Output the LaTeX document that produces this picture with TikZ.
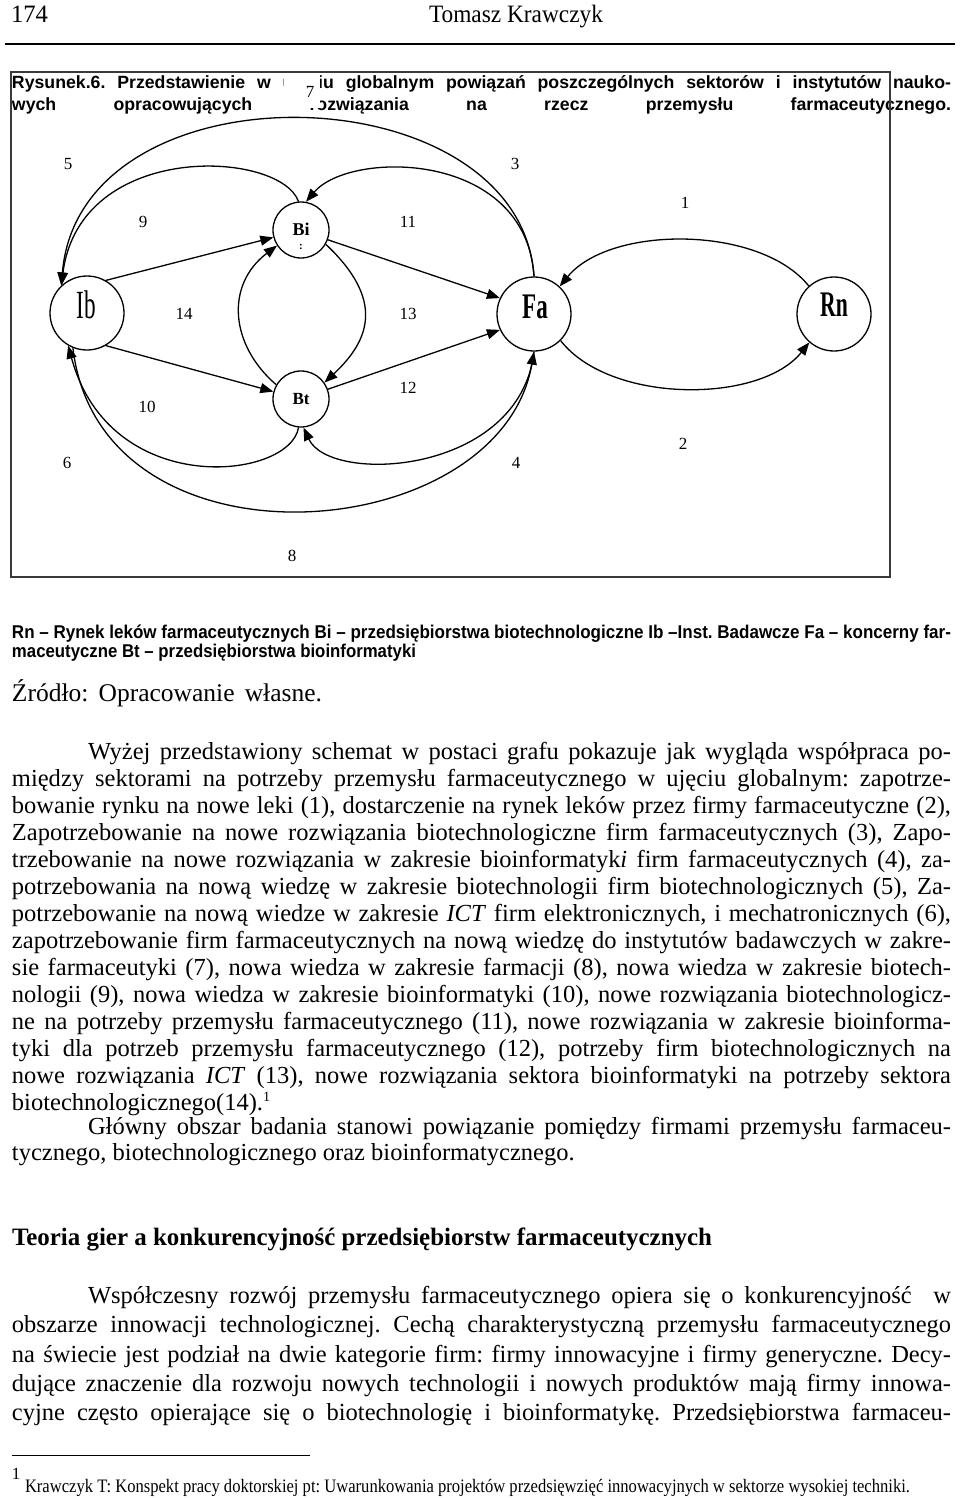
\documentclass[tikz,border=0pt]{standalone}
\usepackage{fontspec}
\usepackage{graphicx}
\usetikzlibrary{arrows.meta}
\setmainfont{Liberation Serif}
\newfontfamily\sansf{Liberation Sans}
\frenchspacing
\newsavebox\jlbox
\newcommand\jline[2]{\sbox\jlbox{#2}\ifdim\wd\jlbox>#1\relax\resizebox{#1}{\height}{\usebox\jlbox}\else\makebox[#1][s]{#2}\fi}
\newcommand\bodysz{\frenchspacing\fontsize{24.5pt}{29pt}\selectfont}
\newcommand\capsz{\frenchspacing\sansf\bfseries\fontsize{17.7pt}{19pt}\selectfont}
\newcommand\legsz{\frenchspacing\sansf\bfseries\fontsize{18.5pt}{19pt}\selectfont}
\newcommand\numsz{\fontsize{17pt}{19pt}\selectfont}
\definecolor{framegray}{HTML}{3A3A3A}
\begin{document}
\begin{tikzpicture}[x=1pt,y=-1pt,
  txt/.style={anchor=base west,inner sep=0pt,outer sep=0pt},
  circ/.style={draw,circle,line width=1.3pt,inner sep=0pt},
  big/.style={circ,minimum size=74pt},
  small/.style={circ,minimum size=56pt},
  lbl/.style={anchor=base,inner sep=0pt},
  num/.style={inner sep=0pt,font=\numsz},
  conn/.style={line width=1.3pt,-{Triangle[length=13pt,width=10pt]}}]
\fill[white] (0,0) rectangle (960,1498);
\useasboundingbox (0,0) rectangle (960,1498);
% header
\node[txt] (pg) at (11,23) {\fontsize{25pt}{28pt}\selectfont\jline{37pt}{174}};
\node[lbl] (auth) at (516,23) {\fontsize{25pt}{28pt}\selectfont\jline{174pt}{Tomasz Krawczyk}};
\draw[line width=1.6pt] (5,44) -- (955,44);
% caption
\node[txt] (cap1) at (12,89) {\capsz\jline{939pt}{Rysunek.6. Przedstawienie w ujęciu globalnym powiązań poszczególnych sektorów i instytutów nauko-}};
\node[txt] (cap2) at (12,111) {\capsz\jline{939pt}{wych opracowujących rozwiązania na rzecz przemysłu farmaceutycznego.}};
\node[fill=white,minimum width=36pt,minimum height=34pt,inner sep=0pt] (patch) at (302,91) {};
\node[num] (l7) at (310,92) {7};
% frame
\draw[framegray,line width=2pt] (11,72) rectangle (890,577);
% nodes
\node[big] (Ib) at (87,313) {};
\node[big] (Fa) at (534,314) {};
\node[big] (Rn) at (834,314) {};
\node[small] (Bi) at (301,230) {};
\node[small] (Bt) at (301,399) {};
\node[lbl] (IbT) at (86,318) {\fontsize{40pt}{40pt}\selectfont\scalebox{0.58}[1]{Ib}};
\node[lbl] (FaT) at (535,318) {\fontsize{36pt}{36pt}\selectfont\bfseries\scalebox{0.64}[1]{Fa}};
\node[lbl] (RnT) at (834,316) {\fontsize{36pt}{36pt}\selectfont\bfseries\scalebox{0.6}[1]{Rn}};
\node[lbl] (BiT) at (301,235) {\fontsize{18pt}{18pt}\selectfont\bfseries Bi};
\node[lbl] (BiC) at (301,249) {\fontsize{11pt}{11pt}\selectfont\bfseries :};
\node[lbl] (BtT) at (301,404) {\fontsize{17pt}{17pt}\selectfont\bfseries Bt};
% connectors
\draw[conn] (Rn.132) .. controls (760,225) and (610,225) .. (Fa.47);
\draw[conn] (Fa.-45) .. controls (610,404) and (760,404) .. (Rn.-131);
\draw[conn] (Fa.90) .. controls (526,150) and (350,150) .. (Bi.80);
\draw[conn] (Fa.90) .. controls (520,70) and (80,60) .. (Ib.133);
\draw[conn] (Bi.95) .. controls (280,150) and (80,140) .. (Ib.133);
\draw[conn] (Fa.-90) .. controls (520,475) and (330,485) .. (Bt.-85);
\draw[conn] (Ib.-112) .. controls (100,580) and (500,548) .. (Fa.-90);
\draw[conn] (Bt.-95) .. controls (290,480) and (110,500) .. (Ib.-120);
\draw[conn] (Ib.60) -- (Bi.195);
\draw[conn] (Ib.-60) -- (Bt.165);
\draw[conn] (Bi.-20) -- (Fa.155);
\draw[conn] (Bt.20) -- (Fa.-155);
\draw[conn] (Bi.-30) .. controls (385,300) and (370,340) .. (Bt.35);
\draw[conn] (Bt.150) .. controls (230,345) and (225,285) .. (Bi.213);
% labels
\node[num] (l1) at (685,203) {1};
\node[num] (l2) at (683,444) {2};
\node[num] (l3) at (515,164) {3};
\node[num] (l4) at (516,463) {4};
\node[num] (l5) at (68,164) {5};
\node[num] (l6) at (67,463) {6};
\node[num] (l8) at (292,556) {8};
\node[num] (l9) at (143,222) {9};
\node[num] (l10) at (147,407) {10};
\node[num] (l11) at (408,222) {11};
\node[num] (l12) at (408,388) {12};
\node[num] (l13) at (408,314) {13};
\node[num] (l14) at (184,314) {14};
% legend
\node[txt] (leg1) at (12,638) {\legsz\jline{939pt}{Rn – Rynek leków farmaceutycznych Bi – przedsiębiorstwa biotechnologiczne Ib –Inst. Badawcze Fa – koncerny far-}};
\node[txt] (leg2) at (12,657) {\legsz\jline{404pt}{maceutyczne Bt – przedsiębiorstwa bioinformatyki}};
\node[txt] (src) at (12,701) {\frenchspacing\fontsize{25.5pt}{28pt}\selectfont\jline{310pt}{Źródło: Opracowanie własne.}};
% body paragraph 1
\node[txt] (b1) at (88,759) {\bodysz\jline{863pt}{Wyżej przedstawiony schemat w postaci grafu pokazuje jak wygląda współpraca po-}};
\node[txt] (b2) at (12,786) {\bodysz\jline{939pt}{między sektorami na potrzeby przemysłu farmaceutycznego w ujęciu globalnym: zapotrze-}};
\node[txt] (b3) at (12,813) {\bodysz\jline{939pt}{bowanie rynku na nowe leki (1), dostarczenie na rynek leków przez firmy farmaceutyczne (2),}};
\node[txt] (b4) at (12,840) {\bodysz\jline{939pt}{Zapotrzebowanie na nowe rozwiązania biotechnologiczne firm farmaceutycznych (3), Zapo-}};
\node[txt] (b5) at (12,867) {\bodysz\jline{939pt}{trzebowanie na nowe rozwiązania w zakresie bioinformatyk\textit{i} firm farmaceutycznych (4), za-}};
\node[txt] (b6) at (12,894) {\bodysz\jline{939pt}{potrzebowania na nową wiedzę w zakresie biotechnologii firm biotechnologicznych (5), Za-}};
\node[txt] (b7) at (12,921) {\bodysz\jline{939pt}{potrzebowanie na nową wiedze w zakresie \textit{ICT} firm elektronicznych, i mechatronicznych (6),}};
\node[txt] (b8) at (12,948) {\bodysz\jline{939pt}{zapotrzebowanie firm farmaceutycznych na nową wiedzę do instytutów badawczych w zakre-}};
\node[txt] (b9) at (12,975) {\bodysz\jline{939pt}{sie farmaceutyki (7), nowa wiedza w zakresie farmacji (8), nowa wiedza w zakresie biotech-}};
\node[txt] (b10) at (12,1002) {\bodysz\jline{939pt}{nologii (9), nowa wiedza w zakresie bioinformatyki (10), nowe rozwiązania biotechnologicz-}};
\node[txt] (b11) at (12,1029) {\bodysz\jline{939pt}{ne na potrzeby przemysłu farmaceutycznego (11), nowe rozwiązania w zakresie bioinforma-}};
\node[txt] (b12) at (12,1056) {\bodysz\jline{939pt}{tyki dla potrzeb przemysłu farmaceutycznego (12), potrzeby firm biotechnologicznych na}};
\node[txt] (b13) at (12,1083) {\bodysz\jline{939pt}{nowe rozwiązania \textit{ICT} (13), nowe rozwiązania sektora bioinformatyki na potrzeby sektora}};
\node[txt] (b14) at (12,1110) {\bodysz biotechnologicznego(14).\raisebox{9pt}{\fontsize{14pt}{14pt}\selectfont 1}};
% paragraph 2
\node[txt] (b15) at (88,1134) {\bodysz\jline{863pt}{Główny obszar badania stanowi powiązanie pomiędzy firmami przemysłu farmaceu-}};
\node[txt] (b16) at (12,1160) {\bodysz tycznego, biotechnologicznego oraz bioinformatycznego.};
% heading
\node[txt] (head) at (12,1245) {\frenchspacing\fontsize{25pt}{28pt}\selectfont\bfseries\jline{700pt}{Teoria gier a konkurencyjność przedsiębiorstw farmaceutycznych}};
% paragraph 3
\node[txt] (c1) at (88,1303) {\bodysz\jline{863pt}{Współczesny rozwój przemysłu farmaceutycznego opiera się o konkurencyjność\ \ w}};
\node[txt] (c2) at (12,1332) {\bodysz\jline{939pt}{obszarze innowacji technologicznej. Cechą charakterystyczną przemysłu farmaceutycznego}};
\node[txt] (c3) at (12,1362) {\bodysz\jline{939pt}{na świecie jest podział na dwie kategorie firm: firmy innowacyjne i firmy generyczne. Decy-}};
\node[txt] (c4) at (12,1391) {\bodysz\jline{939pt}{dujące znaczenie dla rozwoju nowych technologii i nowych produktów mają firmy innowa-}};
\node[txt] (c5) at (12,1420) {\bodysz\jline{939pt}{cyjne często opierające się o biotechnologię i bioinformatykę. Przedsiębiorstwa farmaceu-}};
% footnote
\draw[line width=1pt] (12,1455) -- (310,1455);
\node[txt] (fn1) at (12,1479) {\fontsize{17pt}{17pt}\selectfont 1};
\node[txt] (fn) at (25,1492) {\frenchspacing\fontsize{19pt}{21pt}\selectfont\jline{885pt}{Krawczyk T: Konspekt pracy doktorskiej pt: Uwarunkowania projektów przedsięwzięć innowacyjnych w sektorze wysokiej techniki.}};
\end{tikzpicture}
\end{document}
